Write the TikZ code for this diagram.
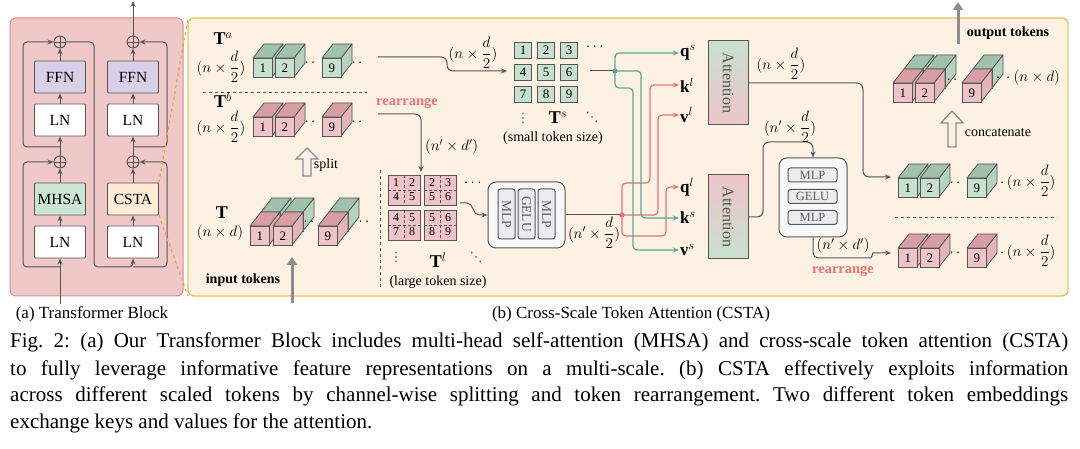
\documentclass[tikz,border=0pt]{standalone}
\usepackage{fix-cm}
\usepackage{amsmath}
\usepackage{fontspec}
\setmainfont{Liberation Serif}
\newfontfamily\dvs{DejaVu Sans}
\usetikzlibrary{arrows.meta,calc}
\frenchspacing
\definecolor{pA}{RGB}{240,200,200}
\definecolor{pAb}{RGB}{214,140,140}
\definecolor{pB}{RGB}{253,241,228}
\definecolor{pBb}{RGB}{233,192,92}
\definecolor{wire}{RGB}{85,85,85}
\definecolor{gfront}{RGB}{200,225,206}
\definecolor{gtop}{RGB}{160,194,172}
\definecolor{gside}{RGB}{181,210,190}
\definecolor{rfront}{RGB}{238,196,201}
\definecolor{rtop}{RGB}{216,158,166}
\definecolor{rside}{RGB}{229,180,187}
\definecolor{gw}{RGB}{92,168,152}
\definecolor{rw}{RGB}{232,112,112}
\definecolor{ffnc}{RGB}{217,208,232}
\definecolor{mhsac}{RGB}{204,228,210}
\definecolor{cstac}{RGB}{252,236,214}
\definecolor{tgray}{RGB}{140,140,140}
\definecolor{redtxt}{RGB}{232,118,118}
\definecolor{odash}{RGB}{228,170,60}
\definecolor{mlpfill}{RGB}{247,247,247}
\definecolor{mlpin}{RGB}{236,236,238}
\definecolor{mlptxt}{RGB}{90,90,90}
\newcommand{\tcube}[5]{%
 \filldraw[cubeline,fill=#3side] (#1+19,#2) -- ++(11,-14) -- ++(0,19) -- ++(-11,14) -- cycle;
 \filldraw[cubeline,fill=#3top] (#1,#2) -- ++(11,-14) -- ++(19,0) -- ++(-11,14) -- cycle;
 \node[cubefront,fill=#3front,anchor=north west] (#5) at (#1,#2) {#4};}
\newcommand{\bcube}[4]{\tcube{#1+11}{#2-14}{g}{}{#4b}\tcube{#1}{#2}{r}{#3}{#4}}
\newcommand{\ltblock}[7]{%
 \node[ltb] (#7) at (#1,#2) {};
 \draw[wire,densely dashed,line width=0.6pt] (#7.north) -- (#7.south) (#7.west) -- (#7.east);
 \node[cnum] (#7a) at ($(#7.center)+(-8,-7)$) {#3};
 \node[cnum] (#7b) at ($(#7.center)+(8,-7)$) {#4};
 \node[cnum] (#7c) at ($(#7.center)+(-8,7)$) {#5};
 \node[cnum] (#7d) at ($(#7.center)+(8,7)$) {#6};}
\begin{document}
\begin{tikzpicture}[x=1pt,y=-1pt,
  ln/.style={draw=wire,line width=1pt},
  arr/.style={-{Stealth[length=6pt,width=5pt]}},
  gwire/.style={draw=gw,line width=1.2pt},
  rwire/.style={draw=rw,line width=1.2pt},
  blk/.style={draw=wire,line width=0.9pt,minimum width=51pt,minimum height=32pt,inner sep=0pt,rounded corners=1pt,font=\fontsize{15.5}{16}\selectfont},
  opl/.style={circle,draw=wire,line width=0.9pt,minimum size=12pt,inner sep=0pt,path picture={\draw[wire,line width=0.9pt] (path picture bounding box.north)--(path picture bounding box.south) (path picture bounding box.west)--(path picture bounding box.east);}},
  cubeline/.style={draw=wire,line width=0.8pt,line join=round},
  cubefront/.style={draw=wire,line width=0.8pt,minimum width=19pt,minimum height=19pt,inner sep=0pt,font=\fontsize{13}{13}\selectfont},
  ltb/.style={draw=wire,line width=0.8pt,fill=rfront,minimum width=32pt,minimum height=30pt,inner sep=0pt},
  cnum/.style={inner sep=0pt,font=\fontsize{12}{12}\selectfont},
  sq/.style={draw=wire,line width=0.8pt,fill=gfront,minimum width=17pt,minimum height=16pt,inner sep=0pt,font=\fontsize{13}{13}\selectfont},
  lbl/.style={inner sep=0pt,font=\fontsize{15}{15}\selectfont},
  dts/.style={inner sep=0pt,text=wire,font=\fontsize{13}{13}\dvs},
  big/.style={inner sep=0pt,font=\fontsize{18}{18}\selectfont},
  txt/.style={inner sep=0pt,font=\fontsize{14}{14}\selectfont},
  btxt/.style={inner sep=0pt,font=\fontsize{14}{14}\selectfont\bfseries},
  redlbl/.style={inner sep=0pt,text=redtxt,font=\fontsize{14.5}{14.5}\selectfont\bfseries},
  qkv/.style={inner sep=1pt,anchor=west,font=\fontsize{17}{17}\selectfont},
  attnbox/.style={draw=wire,line width=1pt,minimum width=40pt,minimum height=84pt,inner sep=0pt},
  attntxt/.style={rotate=-90,inner sep=0pt,text=wire,font=\fontsize{16}{16}\selectfont},
  mlpout/.style={draw=wire,line width=1pt,fill=mlpfill,rounded corners=8pt,inner sep=0pt},
  mlpbox/.style={draw=wire,line width=1pt,fill=mlpin,rounded corners=2.5pt,inner sep=0pt,text=mlptxt},
  tok/.style={draw=tgray,line width=3pt,-{Triangle[length=8pt,width=10pt]}},
  hollow/.style={draw=tgray,line width=1.3pt,fill=pB,line join=miter},
  capfont/.style={inner sep=0pt,font=\fontsize{21}{21}\selectfont},
  subcap/.style={inner sep=0pt,font=\fontsize{17}{17}\selectfont}]
\useasboundingbox[fill=white] (0,0) rectangle (1080,449);
% ---------------- panels
\draw[fill=pA,draw=pAb,line width=1pt,rounded corners=6pt] (10,18) rectangle (183,296);
\draw[fill=pB,draw=pBb,line width=1.3pt,rounded corners=6pt] (188,18) rectangle (1068,296);
% ---------------- panel (a)
\node[opl] (opLb) at (60,42) {};
\node[blk,fill=ffnc] (ffnL) at (60,77) {FFN};
\node[blk,fill=white] (lnL2) at (60,120) {LN};
\node[opl] (opLa) at (60,162) {};
\node[blk,fill=mhsac] (mhsa) at (60,199) {MHSA};
\node[blk,fill=white] (lnL1) at (60,242) {LN};
\node[opl] (opRb) at (133,42) {};
\node[blk,fill=ffnc] (ffnR) at (133,77) {FFN};
\node[blk,fill=white] (lnR2) at (133,120) {LN};
\node[opl] (opRa) at (133,162) {};
\node[blk,fill=cstac] (csta) at (133,199) {CSTA};
\node[blk,fill=white] (lnR1) at (133,242) {LN};
\coordinate (inL) at (60,304);
\coordinate (bL1) at (60,267);
\coordinate (bL2) at (60,147);
\coordinate (bR1) at (133,267);
\coordinate (bR2) at (133,147);
\coordinate (outTop) at (133,1);
\draw[ln,arr] (inL) -- (lnL1);
\draw[ln,arr] (lnL1) -- (mhsa);
\draw[ln,arr] (mhsa) -- (opLa);
\draw[ln,arr] (opLa) -- (lnL2);
\draw[ln,arr] (lnL2) -- (ffnL);
\draw[ln,arr] (ffnL) -- (opLb);
\draw[ln,arr,rounded corners=4pt] (bL1) -- (23,267) -- (23,162) -- (opLa.west);
\draw[ln,arr,rounded corners=4pt] (bL2) -- (23,147) -- (23,42) -- (opLb.west);
\draw[ln,arr,rounded corners=4pt] (opLb.east) -- (94,42) -- (94,267) -- (133,267) -- (lnR1.south);
\draw[ln,arr] (lnR1) -- (csta);
\draw[ln,arr] (csta) -- (opRa);
\draw[ln,arr] (opRa) -- (lnR2);
\draw[ln,arr] (lnR2) -- (ffnR);
\draw[ln,arr] (ffnR) -- (opRb);
\draw[ln,arr,rounded corners=4pt] (bR1) -- (167,267) -- (167,162) -- (opRa.east);
\draw[ln,arr,rounded corners=4pt] (bR2) -- (167,147) -- (167,42) -- (opRb.east);
\draw[ln,arr] (opRb) -- (outTop);
\coordinate (pbTL) at (188,18);
\coordinate (pbBL) at (188,296);
\draw[odash,dashed,line width=1.2pt] (csta.north east) -- (pbTL);
\draw[odash,dashed,line width=1.2pt] (csta.south east) -- (pbBL);
% ---------------- panel (b): split tokens
\node[big] (Ta) at (223,39) {$\mathbf{T}^a$};
\node[lbl] (Tad) at (221,67) {$(n\times\dfrac{d}{2})$};
\tcube{253}{58}{g}{1}{ca1}
\tcube{275}{58}{g}{2}{ca2}
\node[lbl] (dotsa1) at (310,63) {$\cdot\,\cdot$};
\tcube{322}{58}{g}{9}{ca9}
\node[lbl] (dotsa2) at (357,63) {$\cdot\,\cdot$};
\draw[wire,dashed,line width=0.8pt] (203,92) -- (367,92);
\node[big] (Tb) at (223,100) {$\mathbf{T}^b$};
\node[lbl] (Tbd) at (221,127) {$(n\times\dfrac{d}{2})$};
\tcube{253}{117}{r}{1}{cb1}
\tcube{275}{117}{r}{2}{cb2}
\node[lbl] (dotsb1) at (310,122) {$\cdot\,\cdot$};
\tcube{322}{117}{r}{9}{cb9}
\node[lbl] (dotsb2) at (357,122) {$\cdot\,\cdot$};
\node[redlbl] (rr1) at (407,103) {rearrange};
% split arrow
\draw[hollow] (303,176) -- (303,159) -- (296,159) -- (307,148) -- (318,159) -- (311,159) -- (311,176) -- cycle;
\node[txt] (splitt) at (326,165) {split};
% input tokens
\node[big] (Tt) at (222,213) {$\mathbf{T}$};
\node[lbl] (Ttd) at (220,233) {$(n\times d)$};
\bcube{250}{226}{1}{ct1}
\bcube{273}{226}{2}{ct2}
\node[lbl] (dotst1) at (309,222) {$\cdot\,\cdot$};
\bcube{318}{226}{9}{ct9}
\node[lbl] (dotst2) at (364,222) {$\cdot\,\cdot$};
\node[btxt] (intok) at (243,280) {input tokens};
\coordinate (inTokS) at (292,303);
\coordinate (inTokE) at (292,257);
\draw[tok] (inTokS) -- (inTokE);
\draw[wire,dashed,line width=0.8pt] (380,170) -- (380,289);
% ---------------- large tokens
\ltblock{404}{190}{1}{2}{4}{5}{tla}
\ltblock{440}{190}{2}{3}{5}{6}{tlb}
\ltblock{404}{225}{4}{5}{7}{8}{tlc}
\ltblock{440}{225}{5}{6}{8}{9}{tld}
\node[lbl] (tldots) at (474,183) {$\cdots$};
\node[dts] (tlv) at (396,257) {⋮};
\node[big] (Tl) at (438,260) {$\mathbf{T}^l$};
\node[dts] (tldd) at (476,257) {⋱};
\node[txt] (tlcap) at (438,282) {(large token size)};
% ---------------- small tokens
\node[sq] (s1) at (523,50) {1};
\node[sq] (s2) at (546,50) {2};
\node[sq] (s3) at (569,50) {3};
\node[sq] (s4) at (523,72) {4};
\node[sq] (s5) at (546,72) {5};
\node[sq] (s6) at (569,72) {6};
\node[sq] (s7) at (523,94) {7};
\node[sq] (s8) at (546,94) {8};
\node[sq] (s9) at (569,94) {9};
\node[lbl] (tsdots) at (596,47) {$\cdots$};
\node[dts] (tsv) at (523,118) {⋮};
\node[big] (Ts) at (558,118) {$\mathbf{T}^s$};
\node[dts] (tsdd) at (592,117) {⋱};
\node[txt] (tscap) at (553,138) {(small token size)};
% ---------------- connectors left
\coordinate (taOut) at (378,57);
\coordinate (tsIn) at (507,71);
\draw[ln,arr,rounded corners=6pt] (taOut) -- (447,57) -- (447,71) -- (tsIn);
\node[lbl] (lab1) at (473,53) {$(n\times\dfrac{d}{2})$};
\coordinate (tbOut) at (378,114);
\coordinate (tlIn) at (421,172);
\draw[ln,arr,rounded corners=6pt] (tbOut) -- (421,114) -- (tlIn);
\node[lbl,anchor=west] (lab2) at (425,147) {$(n'\times d')$};
% MLP A
\node[mlpout,minimum width=77pt,minimum height=66pt] (mlpA) at (526.5,215) {};
\node[mlpbox,rotate=-90,minimum width=50pt,minimum height=17pt,font=\fontsize{13.5}{13.5}\selectfont] (mA1) at (506.5,214) {MLP};
\node[mlpbox,rotate=-90,minimum width=50pt,minimum height=17pt,font=\fontsize{13.5}{13.5}\selectfont] (mA2) at (526.5,214) {GELU};
\node[mlpbox,rotate=-90,minimum width=50pt,minimum height=17pt,font=\fontsize{13.5}{13.5}\selectfont] (mA3) at (546.5,214) {MLP};
\coordinate (tlOut) at (460,203);
\draw[ln,arr] (tlOut) -- (467,203) to[out=0,in=180] (479,215) -- (mlpA.west);
\coordinate (J2) at (622,215);
\draw[ln] (mlpA.east) -- (J2);
\node[lbl] (lab3) at (594,233) {$(n'\times\dfrac{d}{2})$};
\coordinate (tsOut) at (590,71);
\coordinate (J1) at (615,71);
\draw[ln] (tsOut) -- (J1);
% ---------------- q k v
\node[qkv] (qs) at (679,53) {$\mathbf{q}^s$};
\node[qkv] (kl) at (679,85) {$\mathbf{k}^l$};
\node[qkv] (vl) at (679,115) {$\mathbf{v}^l$};
\node[qkv] (ql) at (679,187) {$\mathbf{q}^l$};
\node[qkv] (ks) at (679,218) {$\mathbf{k}^s$};
\node[qkv] (vs) at (679,250) {$\mathbf{v}^s$};
\draw[rwire,arr,rounded corners=4pt] (J2) -- (622,183) -- (650,183) -- (650,85) -- (kl.west);
\draw[rwire,arr,rounded corners=4pt] (J2) -- (658,215) -- (658,115) -- (vl.west);
\draw[rwire,arr,rounded corners=4pt] (J2) -- (622,236) -- (666,236) -- (666,187) -- (ql.west);
\draw[gwire,arr,rounded corners=4pt] (J1) -- (615,53) -- (qs.west);
\draw[gwire,arr,rounded corners=4pt] (J1) -- (641,71) -- (641,218) -- (ks.west);
\draw[gwire,arr,rounded corners=4pt] (J1) -- (615,88) -- (633,88) -- (633,250) -- (vs.west);
\fill[gw] (J1) circle (2.6);
\fill[rw] (J2) circle (2.6);
% ---------------- attention
\node[attnbox,top color=gfront,bottom color=rfront] (att1) at (728,83) {};
\node[attntxt] (att1t) at (att1.center) {Attention};
\node[attnbox,top color=rfront,bottom color=gfront] (att2) at (728,217) {};
\node[attntxt] (att2t) at (att2.center) {Attention};
\coordinate (gRowIn) at (891,177);
\draw[ln,arr,rounded corners=6pt] (att1.east) -- (863,83) -- (863,177) -- (gRowIn);
\node[lbl] (lab4) at (781,64) {$(n\times\dfrac{d}{2})$};
% MLP B
\node[mlpout,minimum width=68pt,minimum height=79pt] (mlpB) at (813,197.5) {};
\node[mlpbox,minimum width=49pt,minimum height=14pt,font=\fontsize{12.5}{12.5}\selectfont] (mB1) at (812.5,175) {MLP};
\node[mlpbox,minimum width=49pt,minimum height=14pt,font=\fontsize{12.5}{12.5}\selectfont] (mB2) at (812.5,196.5) {GELU};
\node[mlpbox,minimum width=49pt,minimum height=14pt,font=\fontsize{12.5}{12.5}\selectfont] (mB3) at (812.5,217.5) {MLP};
\draw[ln,arr,rounded corners=6pt] (att2.east) -- (763,217) -- (763,142) -- (813,142) -- (mlpB.north);
\node[lbl] (lab5) at (790,127) {$(n'\times\dfrac{d}{2})$};
\coordinate (rRowIn) at (891,253);
\draw[ln,arr,rounded corners=5pt] (mlpB.south) -- (813,258) -- (866,258) to[out=0,in=180] (878,253) -- (rRowIn);
\node[lbl] (lab6) at (843,246) {$(n'\times d')$};
\node[redlbl] (rr2) at (843,271) {rearrange};
% ---------------- right cubes
\bcube{893}{83}{1}{co1}
\bcube{915}{83}{2}{co2}
\node[lbl] (dotso1) at (952,80) {$\cdot\,\cdot$};
\bcube{962}{83}{9}{co9}
\node[lbl,anchor=west] (lab7) at (996,78) {$\cdot\,\cdot(n\times d)$};
\tcube{898}{178}{g}{1}{cg1}
\tcube{920}{178}{g}{2}{cg2}
\node[lbl] (dotsg1) at (955,183) {$\cdot\,\cdot$};
\tcube{967}{178}{g}{9}{cg9}
\node[lbl,anchor=west] (lab8) at (1000,181) {$\cdot\,(n\times\dfrac{d}{2})$};
\draw[wire,dashed,line width=0.8pt] (895,217) -- (1057,217);
\tcube{898}{248}{r}{1}{cr1}
\tcube{920}{248}{r}{2}{cr2}
\node[lbl] (dotsr1) at (955,253) {$\cdot\,\cdot$};
\tcube{967}{248}{r}{9}{cr9}
\node[lbl,anchor=west] (lab9) at (1000,251) {$\cdot\,(n\times\dfrac{d}{2})$};
% concatenate
\draw[hollow] (948,147) -- (948,123) -- (941,123) -- (952,111) -- (963,123) -- (956,123) -- (956,147) -- cycle;
\node[txt] (conc) at (998,133) {concatenate};
% output tokens
\coordinate (outS) at (958,44);
\coordinate (outE) at (958,2);
\draw[tok] (outS) -- (outE);
\node[btxt] (outtok) at (1008,33) {output tokens};
% ---------------- captions
\node[subcap,anchor=base] (capa) at (92,319) {(a) Transformer Block};
\node[subcap,anchor=base] (capb) at (631,319) {(b) Cross-Scale Token Attention (CSTA)};
\node[capfont,anchor=base west] (cap1) at (10,348) {\makebox[1058pt][s]{Fig. 2: (a) Our Transformer Block includes multi-head self-attention (MHSA) and cross-scale token attention (CSTA)}};
\node[capfont,anchor=base west] (cap2) at (10,375) {\makebox[1058pt][s]{to fully leverage informative feature representations on a multi-scale. (b) CSTA effectively exploits information}};
\node[capfont,anchor=base west] (cap3) at (10,401) {\makebox[1058pt][s]{across different scaled tokens by channel-wise splitting and token rearrangement. Two different token embeddings}};
\node[capfont,anchor=base west] (cap4) at (10,428) {exchange keys and values for the attention.};
\end{tikzpicture}
\end{document}
